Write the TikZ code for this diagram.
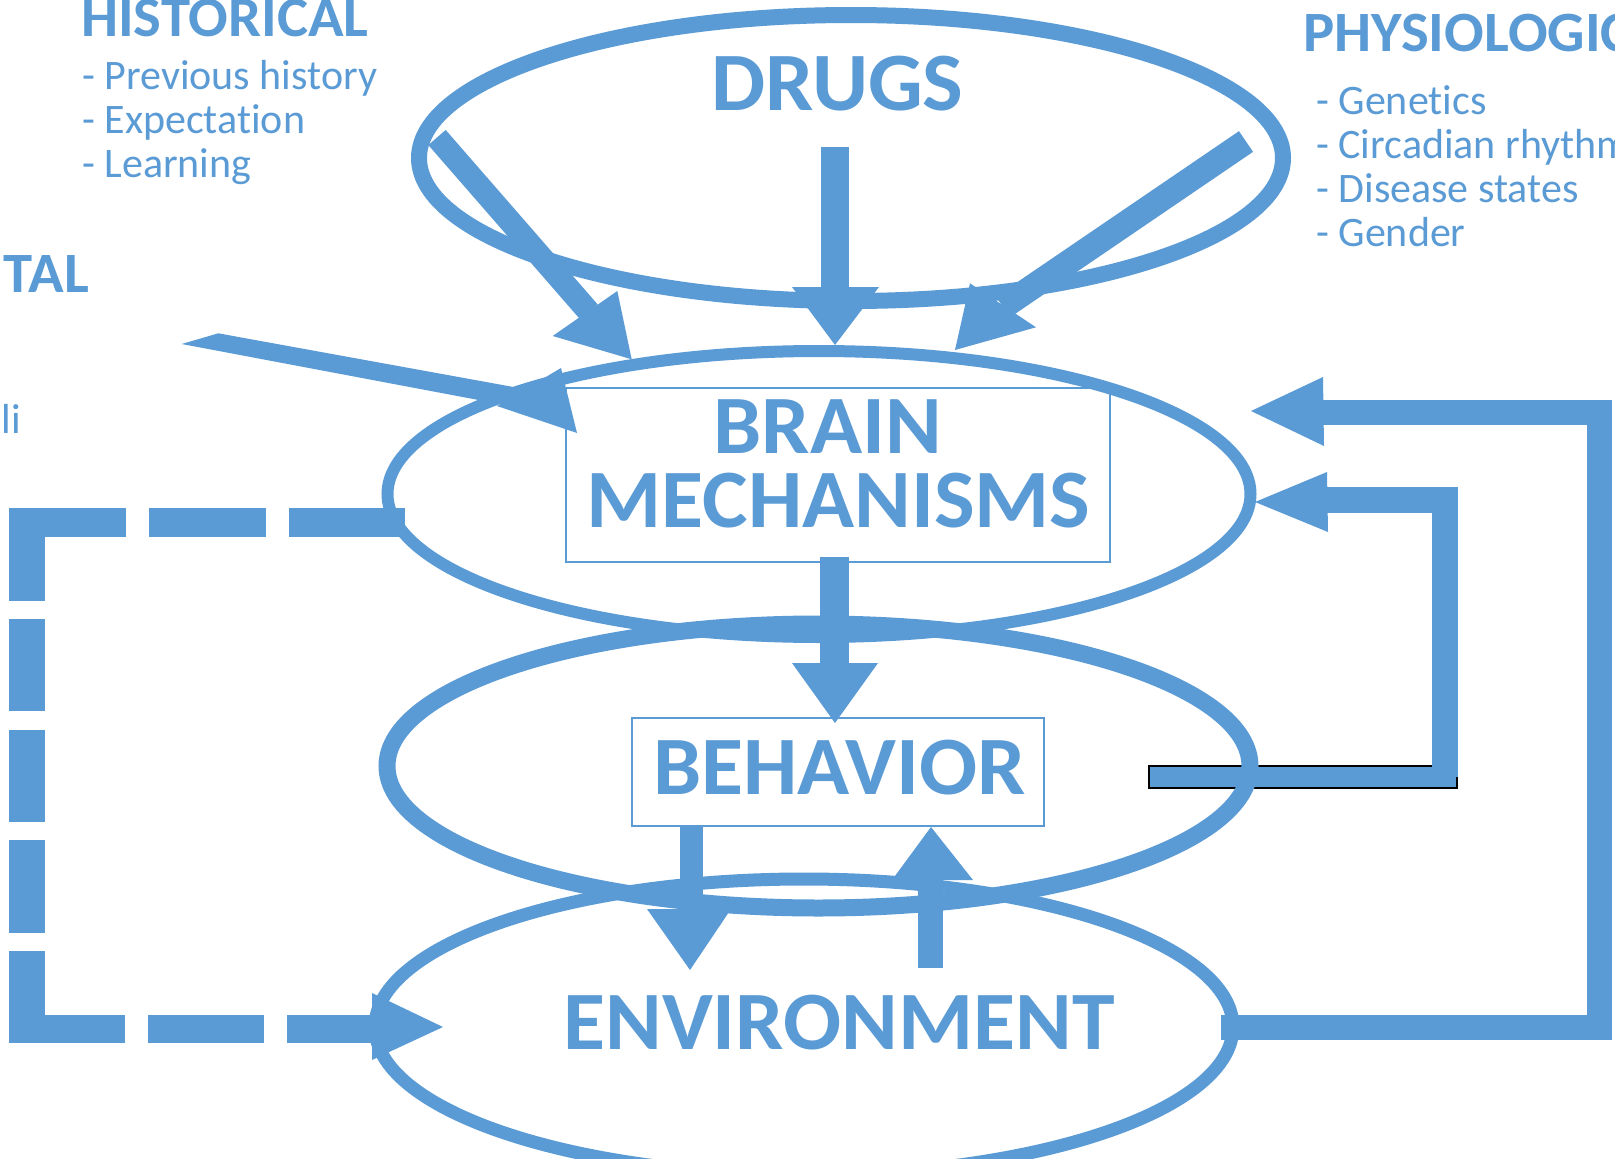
\documentclass[tikz,border=0pt]{standalone}
\usepackage{fontspec}
\usepackage{graphicx}
\setmainfont{Carlito}[Ligatures=NoCommon]
\usetikzlibrary{shapes.geometric}
\definecolor{ob}{HTML}{5B9BD5}
\newcommand{\wideB}[1]{\scalebox{1.036}[1]{#1}}
\newcommand{\wideH}[1]{\scalebox{1.03}[1]{#1}}
\tikzset{
  ell/.style={draw=ob, ellipse, inner sep=0pt},
  lbox/.style={draw=ob, line width=2pt, inner sep=0pt},
  biglab/.style={text=ob, font=\bfseries\fontsize{83}{83}\selectfont, inner sep=0pt},
  hdr/.style={text=ob, font=\bfseries\fontsize{57}{57}\selectfont, inner sep=0pt},
  listitem/.style={text=ob, font=\fontsize{42}{42}\selectfont, inner sep=0pt},
  shaft/.style={draw=ob, line width=#1},
  arrhead/.style={fill=ob},
}
\begin{document}
\begin{tikzpicture}[x=1pt,y=-1pt]
\useasboundingbox (0,0) rectangle (1615,1159);
\fill[white] (0,0) rectangle (1615,1159);

% inner feedback bottom bar (black outlined)
\node[draw=black, line width=2pt, fill=ob, minimum width=308pt, minimum height=22pt, inner sep=0pt] (fbbar) at (1303,777) {};

% ellipses
\node[ell, line width=16pt, minimum width=864pt, minimum height=286pt] (drugsE) at (851,158) {};
\node[ell, line width=12pt, minimum width=863pt, minimum height=286pt] (brainE) at (819,494) {};
\node[ell, line width=17pt, minimum width=863pt, minimum height=284pt] (behavE) at (818.5,766) {};
\node[ell, line width=13pt, minimum width=858pt, minimum height=296pt] (envE) at (804,1027) {};

% boxes
\node[lbox, minimum width=544pt, minimum height=174pt] (brainB) at (838,475) {};
\node[lbox, minimum width=412pt, minimum height=108pt] (behavB) at (838,772) {};

% coordinates
\coordinate (a1s) at (437,137.5);  \coordinate (a1e) at (589,312);
\coordinate (a1l) at (552.7,336);  \coordinate (a1t) at (631.7,359.3); \coordinate (a1r) at (617.3,291);
\coordinate (a2s) at (835,147);  \coordinate (a2e) at (835,290);
\coordinate (a2l) at (792,287);  \coordinate (a2t) at (835,345); \coordinate (a2r) at (879,287);
\coordinate (a3s) at (1246,141.5); \coordinate (a3e) at (1003,307);
\coordinate (a3l) at (970,283.3);  \coordinate (a3t) at (955,350); \coordinate (a3r) at (1036,327.3);
\coordinate (a4a) at (218.3,333.3); \coordinate (a4b) at (530,390);
\coordinate (a4c) at (505,405);     \coordinate (a4d) at (181.7,344);
\coordinate (a4l) at (561,368);  \coordinate (a4t) at (577,433); \coordinate (a4r) at (497,406);
\coordinate (a5s) at (834.5,557); \coordinate (a5e) at (834.5,666);
\coordinate (a5l) at (792,663);  \coordinate (a5t) at (835,723); \coordinate (a5r) at (878,663);
\coordinate (a6s) at (691.5,826); \coordinate (a6e) at (691.5,912);
\coordinate (a6l) at (647,909);  \coordinate (a6t) at (690,970); \coordinate (a6r) at (731,909);
\coordinate (a7s) at (930,968);  \coordinate (a7e) at (930,877);
\coordinate (a7l) at (892,880);  \coordinate (a7t) at (931,827); \coordinate (a7r) at (973,880);
% outer feedback
\coordinate (o1) at (1221,1027); \coordinate (o2) at (1599.5,1027);
\coordinate (o3) at (1599.5,412); \coordinate (o4) at (1320,412);
\coordinate (ol) at (1323,377); \coordinate (ot) at (1251,411); \coordinate (or) at (1324,446);
% inner feedback
\coordinate (i1) at (1445,777); \coordinate (i2) at (1445,500); \coordinate (i3) at (1325,500);
\coordinate (il) at (1327,472); \coordinate (it) at (1255,502); \coordinate (ir) at (1328,532);
% dashed feedback
\coordinate (d1) at (405,522.5); \coordinate (d2) at (9,522.5);
\coordinate (d3) at (27,508); \coordinate (d4) at (27,1043);
\coordinate (d5) at (9,1029); \coordinate (d6) at (374,1029);
\coordinate (dl) at (372,993); \coordinate (dt) at (443,1027); \coordinate (dr) at (372,1060);

% arrows from drugs
\draw[shaft=23pt] (a1s) -- (a1e);
\fill[arrhead] (a1l) -- (a1t) -- (a1r) -- cycle;
\draw[shaft=28pt] (a2s) -- (a2e);
\fill[arrhead] (a2l) -- (a2t) -- (a2r) -- cycle;
\draw[shaft=25pt] (a3s) -- (a3e);
\fill[arrhead] (a3l) -- (a3t) -- (a3r) -- cycle;
% arrow from left
\fill[arrhead] (a4a) -- (a4b) -- (a4c) -- (a4d) -- cycle;
\fill[arrhead] (a4l) -- (a4t) -- (a4r) -- cycle;
% brain -> behavior
\draw[shaft=29pt] (a5s) -- (a5e);
\fill[arrhead] (a5l) -- (a5t) -- (a5r) -- cycle;
% behavior -> environment
\draw[shaft=23pt] (a6s) -- (a6e);
\fill[arrhead] (a6l) -- (a6t) -- (a6r) -- cycle;
% environment -> behavior
\draw[shaft=25pt] (a7s) -- (a7e);
\fill[arrhead] (a7l) -- (a7t) -- (a7r) -- cycle;
% outer feedback
\draw[shaft=25pt, line join=miter] (o1) -- (o2) -- (o3) -- (o4);
\fill[arrhead] (ol) -- (ot) -- (or) -- cycle;
% inner feedback
\draw[shaft=26pt, line join=miter] (i1) -- (i2) -- (i3);
\fill[arrhead] (il) -- (it) -- (ir) -- cycle;
% dashed feedback
\draw[shaft=29pt, dash pattern=on 116.5pt off 23pt] (d1) -- (d2);
\draw[shaft=36pt, dash pattern=on 92.5pt off 18.3pt] (d3) -- (d4);
\draw[shaft=28pt, dash pattern=on 116pt off 23pt] (d5) -- (d6);
\fill[arrhead] (dl) -- (dt) -- (dr) -- cycle;

% labels
\node[biglab, anchor=base] (drugsT) at (837.5,110) {\wideB{DRUGS}};
\node[biglab, anchor=base, text depth=0pt] (brainT1) at (827.5,453) {\wideB{BRAIN}};
\node[biglab, anchor=base, text height=56pt] (brainT2) at (838.5,527) {\wideB{MECHANISMS}};
\node[biglab, anchor=base] (behavT) at (839.5,794) {\wideB{BEHAVIOR}};
\node[biglab, anchor=base] (envT) at (839,1049) {\wideB{ENVIRONMENT}};

% side texts
\node[hdr, anchor=base west] (histH) at (81,36) {\wideH{HISTORICAL}};
\node[listitem, anchor=base west] (hist1) at (82,89) {- Previous history};
\node[listitem, anchor=base west] (hist2) at (82,133) {- Expectation};
\node[listitem, anchor=base west] (hist3) at (82,177) {- Learning};

\node[hdr, anchor=base west] (physH) at (1303,51) {\wideH{PHYSIOLOGICAL}};
\node[listitem, anchor=base west] (phys1) at (1316,114) {- Genetics};
\node[listitem, anchor=base west] (phys2) at (1316,158) {- Circadian rhythms};
\node[listitem, anchor=base west] (phys3) at (1316,202) {- Disease states};
\node[listitem, anchor=base west] (phys4) at (1316,246) {- Gender};

\node[hdr, anchor=base east] (envH) at (89,292) {\wideH{TAL}};
\node[listitem, anchor=base east] (env1) at (21,433) {li};
\end{tikzpicture}
\end{document}
